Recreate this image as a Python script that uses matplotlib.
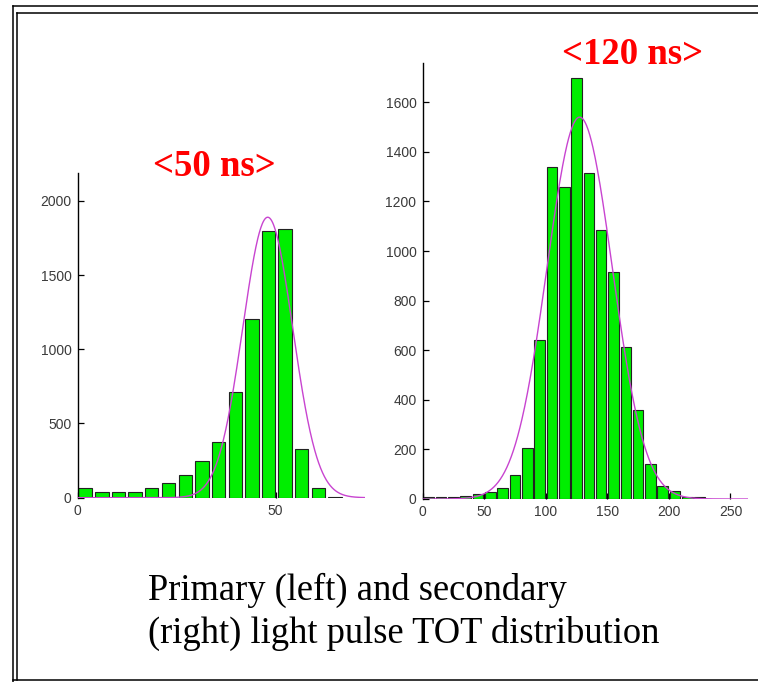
import matplotlib
matplotlib.use("Agg")
import matplotlib.pyplot as plt
import numpy as np
from matplotlib.lines import Line2D

# ==========================================
# DATA
# ==========================================
# primary pulse TOT histogram (left)
left_centers = [1.9, 6.1, 10.3, 14.5, 18.7, 22.9, 27.2, 31.4,
                35.6, 39.8, 44.0, 48.2, 52.4, 56.6, 60.8, 65.0]
left_counts = [63, 40, 36, 40, 63, 101, 155, 245,
               377, 715, 1207, 1798, 1811, 326, 63, 8]
left_fit = {"amp": 1890, "mean": 48.0, "sigma": 6.3}

# secondary pulse TOT histogram (right)
right_centers = [5, 15, 25, 35, 45, 55, 65, 75, 85, 95, 105, 115,
                 125, 135, 145, 155, 165, 175, 185, 195, 205, 215, 225]
right_counts = [8, 7, 8, 13, 21, 27, 43, 97, 205, 641, 1337, 1259,
                1698, 1316, 1084, 916, 613, 360, 141, 54, 32, 8, 8]
right_fit = {"amp": 1540, "mean": 127.5, "sigma": 26.5}

left_title = "<50 ns>"
right_title = "<120 ns>"
caption = ["Primary (left) and secondary",
           "(right) light pulse TOT distribution"]

left_xticks = [0, 50]
left_yticks = [0, 500, 1000, 1500, 2000]
right_xticks = [0, 50, 100, 150, 200, 250]
right_yticks = [0, 200, 400, 600, 800, 1000, 1200, 1400, 1600]

W, H = 758, 682
BAR_GREEN = "#00ee00"
FIT_COLOR = "#c844d0"


def px(x, y):
  """Pixel position (top-left origin) -> figure fraction."""
  return x / W, 1 - y / H


def gauss(x, p):
  return p["amp"] * np.exp(-0.5 * ((x - p["mean"]) / p["sigma"]) ** 2)


def draw_hist(ax, centers, counts, width, fit, xlim, ylim, xticks, yticks):
  ax.bar(centers, counts, width=width, color=BAR_GREEN,
         edgecolor="#222222", linewidth=0.8, zorder=2)
  xs = np.linspace(xlim[0], xlim[1], 600)
  ax.plot(xs, gauss(xs, fit), color=FIT_COLOR, lw=1.0, zorder=3)
  ax.set_xlim(*xlim)
  ax.set_ylim(*ylim)
  ax.set_xticks(xticks)
  ax.set_yticks(yticks)
  for s in ["top", "right", "bottom"]:
    ax.spines[s].set_visible(False)
  ax.spines["left"].set_linewidth(1.0)
  ax.tick_params(direction="in", length=4, width=0.9, pad=4.5,
                 labelsize=10, labelcolor="#3a3a3a")
  for lab in ax.get_xticklabels() + ax.get_yticklabels():
    lab.set_fontfamily("Liberation Sans")
  ax.patch.set_alpha(0)


fig = plt.figure(figsize=(W / 100, H / 100), dpi=100)

# ==========================================
# PANELS
# ==========================================
ax_l = fig.add_axes([77.7 / W, (H - 497.7) / H, 287 / W, 325 / H])
draw_hist(ax_l, left_centers, left_counts, 3.4, left_fit,
          (0, 72.5), (0, 2190), left_xticks, left_yticks)

ax_r = fig.add_axes([422.7 / W, (H - 499) / H, 325 / W, 435.7 / H])
draw_hist(ax_r, right_centers, right_counts, 8.6, right_fit,
          (0, 264), (0, 1757), right_xticks, right_yticks)

# ==========================================
# TEXT
# ==========================================
fig.text(*px(214, 166), left_title, color="red", fontsize=26.5,
         fontweight="bold", family="Liberation Serif", ha="center", va="center")
fig.text(*px(632.5, 55), right_title, color="red", fontsize=26.5,
         fontweight="bold", family="Liberation Serif", ha="center", va="center")
fig.text(*px(148, 600), caption[0], fontsize=26.3, family="Liberation Serif",
         ha="left", va="baseline")
fig.text(*px(148, 643), caption[1], fontsize=26.3, family="Liberation Serif",
         ha="left", va="baseline")

# ==========================================
# DOUBLE FRAME
# ==========================================
frame = [
    ((12.5, W), (6, 6)),
    ((12.5, 12.5), (6, H)),
    ((17, W), (13, 13)),
    ((17, 17), (13, 680)),
    ((12.5, W), (680, 680)),
]
for xs, ys in frame:
  fx = [x / W for x in xs]
  fy = [1 - y / H for y in ys]
  fig.add_artist(Line2D(fx, fy, color="black", lw=1.1))

fig.savefig("out.png", dpi=100)
